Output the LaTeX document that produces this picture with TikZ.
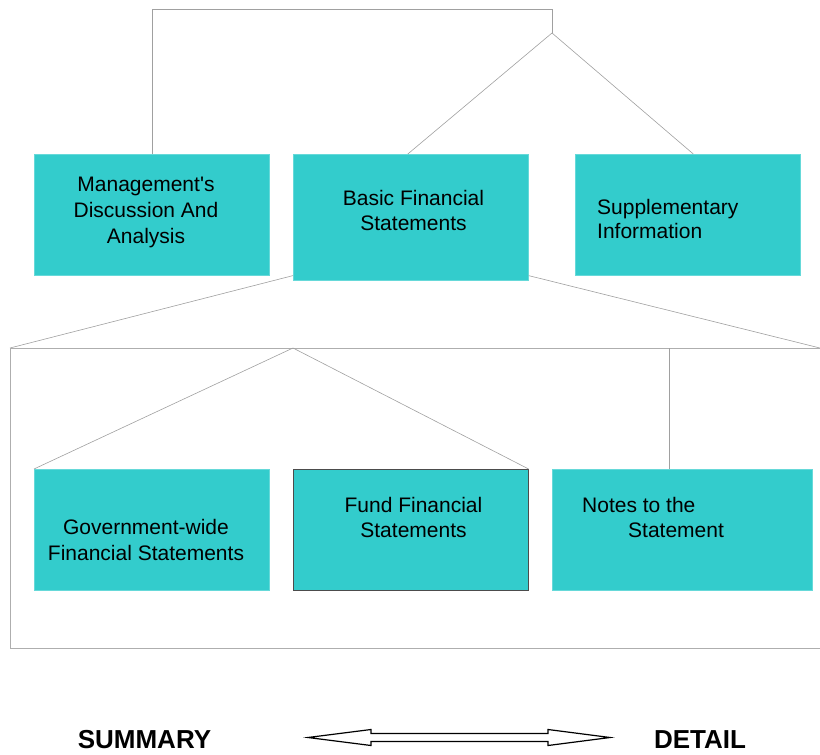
\documentclass[tikz,border=0pt]{standalone}
\usepackage{fontspec}
\setmainfont{Liberation Sans}
\definecolor{tealbox}{HTML}{33CCCC}
\definecolor{linegray}{HTML}{A0A0A0}
\tikzset{
  box/.style={rectangle, fill=tealbox, draw=tealbox!75!white, line width=0.6pt, inner sep=0pt, anchor=north west},
  darkbox/.style={box, draw=black!70},
  txt/.style={anchor=base, inner sep=0pt, font=\fontsize{21}{26}\selectfont},
  ltxt/.style={txt, anchor=base west},
  conn/.style={draw=linegray, line width=0.6pt},
  framestyle/.style={draw=linegray!85, line width=1pt},
  lbl/.style={anchor=base, inner sep=0pt, font=\fontsize{26}{30}\selectfont\bfseries},
  dblarrow/.style={draw=black, fill=white, line width=1.2pt, line join=miter}
}
\begin{document}
\begin{tikzpicture}[x=1pt,y=-1pt]
\useasboundingbox (0,0) rectangle (820,755);

% boxes
\node[box, minimum width=235pt, minimum height=121pt] (b1) at (34,154) {};
\node[box, minimum width=235pt, minimum height=126pt] (b2) at (293,154) {};
\node[box, minimum width=225pt, minimum height=121pt] (b3) at (575,154) {};
\node[box, minimum width=235pt, minimum height=121pt] (b4) at (34,469) {};
\node[darkbox, minimum width=235pt, minimum height=121pt] (b5) at (293,469) {};
\node[box, minimum width=260pt, minimum height=121pt] (b6) at (552,469) {};

% texts
\node[txt] (t1a) at (146,191) {Management\textquotesingle s};
\node[txt] (t1b) at (146,217) {Discussion And};
\node[txt] (t1c) at (146,243) {Analysis};
\node[txt] (t2a) at (413.5,205) {Basic Financial};
\node[txt] (t2b) at (413.5,230) {Statements};
\node[ltxt] (t3a) at (597,214) {Supplementary};
\node[ltxt] (t3b) at (597,238) {Information};
\node[txt] (t4a) at (146,534) {Government-wide};
\node[txt] (t4b) at (146,560) {Financial Statements};
\node[txt] (t5a) at (413.5,512) {Fund Financial};
\node[txt] (t5b) at (413.5,537) {Statements};
\node[ltxt] (t6a) at (582,512) {Notes to the};
\node[ltxt] (t6b) at (628,537) {Statement};

% top connectors
\coordinate (topl) at (152,9);
\coordinate (topr) at (552,9);
\coordinate (apex1) at (552,33);
\draw[conn] (b1.north -| topl) -- (topl) -- (topr) -- (apex1);
\draw[conn] ([xshift=-3pt]b2.north) -- (apex1) -- ([xshift=5.5pt]b3.north);

% expansion lines and frame
\coordinate (ftl) at (10,348);
\coordinate (ftr) at (820,348);
\coordinate (fbl) at (10,648);
\coordinate (fbr) at (820,648);
\draw[conn] ([yshift=5pt]b2.south west) -- (ftl);
\draw[conn] ([yshift=5pt]b2.south east) -- (ftr);
\draw[framestyle] (ftr) -- (ftl) -- (fbl) -- (fbr);

% lower connectors
\coordinate (apex2) at (293,348);
\coordinate (apex3) at (669,348);
\draw[conn] (b4.north west) -- (apex2) -- (b5.north east);
\draw[conn] (apex3) -- (apex3 |- b6.north);

% double arrow
\draw[dblarrow] (308,737.5) -- (371,729.5) -- (371,733.5) -- (548,733.5) -- (548,729.5)
  -- (610,737.5) -- (548,745.5) -- (548,741.5) -- (371,741.5) -- (371,745.5) -- cycle;

\node[lbl] (summary) at (144.5,748.5) {SUMMARY};
\node[lbl] (detail) at (700,748.5) {DETAIL};
\end{tikzpicture}
\end{document}
